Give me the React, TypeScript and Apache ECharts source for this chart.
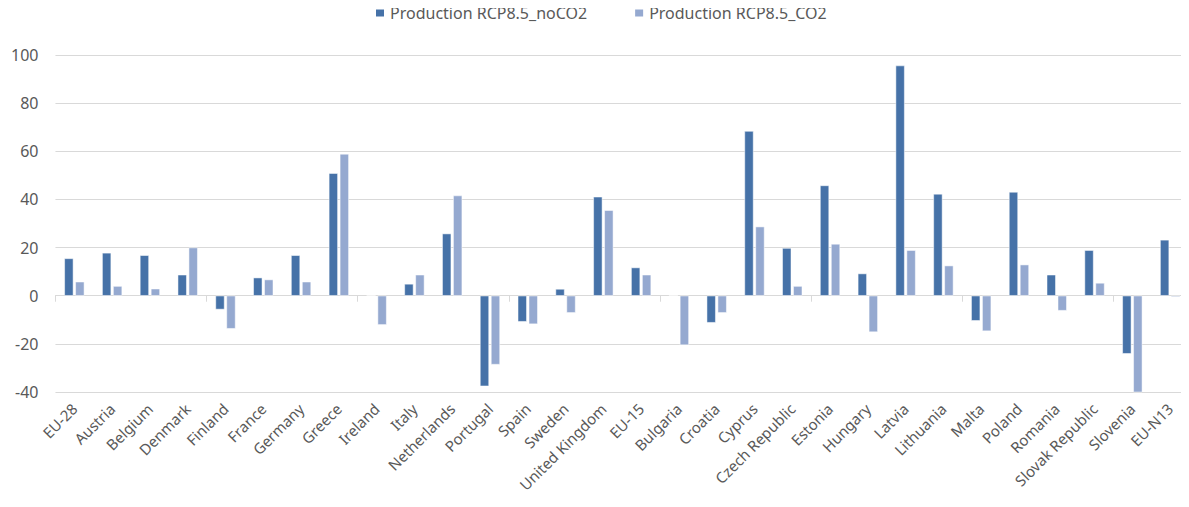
import React, { useEffect, useRef } from "react";
import * as echarts from "echarts";

const categories = [
  "EU-28", "Austria", "Belgium", "Denmark", "Finland", "France", "Germany", "Greece",
  "Ireland", "Italy", "Netherlands", "Portugal", "Spain", "Sweden", "United Kingdom",
  "EU-15", "Bulgaria", "Croatia", "Cyprus", "Czech Republic", "Estonia", "Hungary",
  "Latvia", "Lithuania", "Malta", "Poland", "Romania", "Slovak Republic", "Slovenia", "EU-N13",
];

const noCO2 = [
  15.5, 17.8, 16.8, 8.7, -5.7, 7.5, 16.8, 50.9,
  0, 4.9, 25.8, -37.6, -10.8, 2.8, 41.1,
  11.7, 0, -11.2, 68.4, 19.8, 45.8, 9.2,
  95.6, 42.3, -10.4, 43.1, 8.7, 18.9, -24.1, 23.2,
];

const withCO2 = [
  5.8, 4.0, 2.9, 20.0, -13.7, 6.7, 5.8, 58.9,
  -12.1, 8.7, 41.6, -28.6, -11.8, -7.1, 35.5,
  8.7, -20.5, -7.1, 28.7, 4.0, 21.5, -15.1,
  18.9, 12.5, -14.7, 12.9, -6.2, 5.3, -40.5, -0.5,
];

const seriesNames = ["Production RCP8.5_noCO2", "Production RCP8.5_CO2"];
const yTicks = { min: -40, max: 100, interval: 20 };

const FONT = "'Noto Sans', 'DejaVu Sans', sans-serif";
const TEXT = "#595959";
const GRID = "#d9d9d9";

export default function App() {
  const ref = useRef<HTMLDivElement>(null);

  useEffect(() => {
    if (!ref.current) return;
    const chart = echarts.init(ref.current, undefined, { renderer: "svg" });
    chart.setOption({
      animation: false,
      backgroundColor: "#ffffff",
      textStyle: { fontFamily: FONT },
      legend: {
        top: 5,
        left: 366,
        padding: 0,
        itemWidth: 10,
        itemHeight: 9,
        itemGap: 46,
        icon: "rect",
        textStyle: { fontFamily: FONT, fontSize: 16, color: TEXT },
        data: seriesNames,
      },
      grid: { left: 39.5, right: 0, top: 55, bottom: 107, containLabel: false },
      xAxis: [
        {
          type: "category",
          data: categories,
          position: "top",
          axisLine: { onZero: true, lineStyle: { color: GRID, width: 1 } },
          axisTick: { show: true, inside: true, length: 6, lineStyle: { color: GRID } },
          axisLabel: { show: false },
        },
        {
          type: "category",
          data: categories,
          position: "bottom",
          axisLine: { show: false, onZero: false },
          axisTick: { show: false },
          axisLabel: {
            interval: 0,
            rotate: 45,
            margin: 14,
            fontFamily: FONT,
            fontSize: 15,
            color: TEXT,
          },
        },
      ],
      yAxis: {
        type: "value",
        min: yTicks.min,
        max: yTicks.max,
        interval: yTicks.interval,
        axisLine: { show: false },
        axisTick: { show: false },
        splitLine: { lineStyle: { color: GRID, width: 1 } },
        axisLabel: { fontFamily: FONT, fontSize: 16, color: TEXT, margin: 17 },
      },
      series: [
        {
          name: seriesNames[0],
          type: "bar",
          xAxisIndex: 0,
          data: noCO2,
          barWidth: 9,
          barGap: "22%",
          clip: true,
          itemStyle: { color: "#4672a8", borderColor: "#ffffff", borderWidth: 0.5 },
        },
        {
          name: seriesNames[1],
          type: "bar",
          xAxisIndex: 0,
          data: withCO2,
          barWidth: 9,
          clip: true,
          itemStyle: { color: "#95a9d0", borderColor: "#ffffff", borderWidth: 0.5 },
        },
      ],
    });
    return () => chart.dispose();
  }, []);

  // Pull the chart up over the body's top margin so it starts at the page edge,
  // and let it run to the right edge of the window.
  return <div ref={ref} style={{ width: 1181, height: 499, marginTop: -8 }} />;
}
